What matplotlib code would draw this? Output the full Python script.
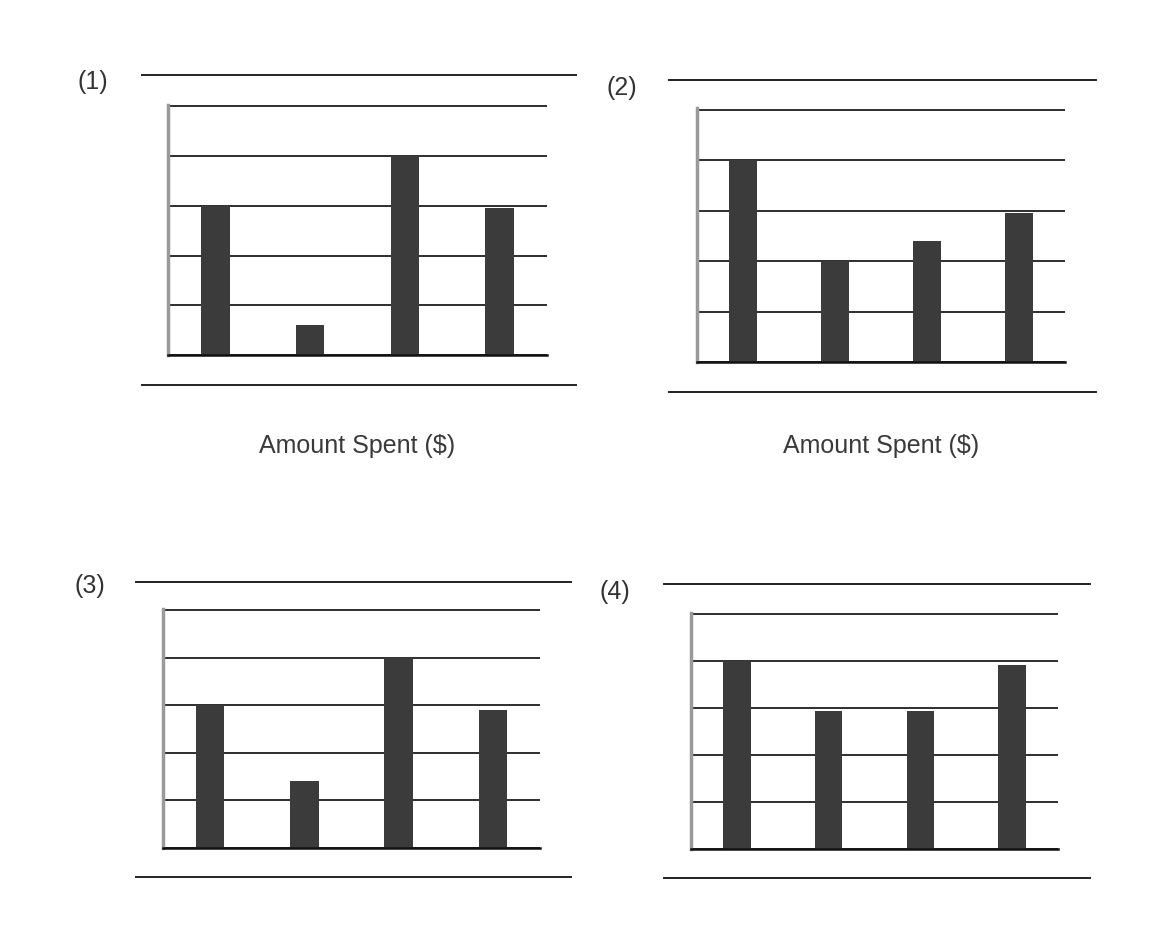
import numpy as np
import matplotlib
matplotlib.use("Agg")
import matplotlib.pyplot as plt

plt.rcParams['font.family'] = ['Liberation Sans', 'DejaVu Sans']

W, H = 1161, 935

# bar heights (grid step = 1)
categories = ["A", "B", "C", "D"]
values1 = [3.0, 0.6, 4.0, 2.95]
values2 = [4.0, 2.0, 2.4, 2.95]
values3 = [3.0, 1.4, 4.0, 2.9]
values4 = [4.0, 2.95, 2.95, 3.93]
panel_labels = ["(1)", "(2)", "(3)", "(4)"]
xlabels = ["Amount Spent ($)", "Amount Spent ($)", "", ""]

# layout in pixels: (outer x0, x1, top y, bottom y), (inner x0, x1, top y, bottom y), label centre
layout = [
    ((142, 576, 75, 385), (168, 547, 105, 355), (93, 82)),
    ((669, 1096, 80, 392), (697, 1065, 108, 362), (622, 88)),
    ((136, 571, 582, 877), (163, 540, 609, 848), (90, 586)),
    ((664, 1090, 584, 878), (691, 1058, 613, 849), (615, 592)),
]

all_values = [values1, values2, values3, values4]

fig = plt.figure(figsize=(W / 100, H / 100), dpi=100)
fig.patch.set_facecolor("white")


def px_rect(x0, x1, ytop, ybot):
    return [x0 / W, 1 - ybot / H, (x1 - x0) / W, (ybot - ytop) / H]


for vals, (outer, inner, lab), plab, xlab in zip(all_values, layout, panel_labels, xlabels):
    # outer frame: only top and bottom rules
    oax = fig.add_axes(px_rect(*outer))
    oax.set_xticks([])
    oax.set_yticks([])
    oax.patch.set_alpha(0)
    for side in ["left", "right"]:
        oax.spines[side].set_visible(False)
    for side in ["top", "bottom"]:
        oax.spines[side].set_color("#222222")
        oax.spines[side].set_linewidth(1.4)

    ax = fig.add_axes(px_rect(*inner))
    x = np.arange(len(categories))
    ax.bar(x, vals, width=0.3, color="#3b3b3b", zorder=3)
    ax.set_xlim(-0.5, len(categories) - 0.5)
    ax.set_ylim(0, 5.03)
    ax.set_yticks(np.arange(0, 6))
    ax.yaxis.grid(True, color="#1e1e1e", linewidth=1.3)
    ax.set_axisbelow(True)
    ax.tick_params(left=False, bottom=False, labelleft=False, labelbottom=False)
    ax.spines["top"].set_visible(False)
    ax.spines["right"].set_visible(False)
    ax.spines["left"].set_color("#9a9a9a")
    ax.spines["left"].set_linewidth(2.5)
    ax.spines["bottom"].set_color("#111111")
    ax.spines["bottom"].set_linewidth(1.8)
    ax.spines["bottom"].set_zorder(4)

    fig.text(lab[0] / W, 1 - lab[1] / H, plab, fontsize=18, color="#333333",
             ha="center", va="center")
    if xlab:
        cx = (inner[0] + inner[1]) / 2
        fig.text(cx / W, 1 - 446 / H, xlab, fontsize=18, color="#3a3a3a",
                 ha="center", va="center")

fig.savefig("out.png", dpi=100, facecolor="white")
